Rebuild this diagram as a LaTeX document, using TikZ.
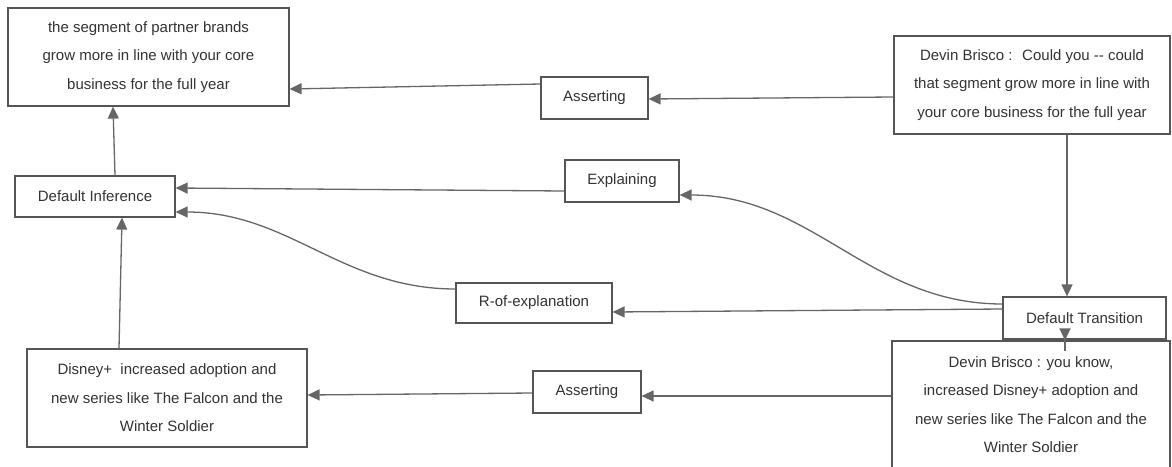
\documentclass[tikz,border=0pt]{standalone}
\usepackage{fontspec}
\setmainfont{Liberation Sans}
\definecolor{edgegray}{HTML}{666666}
\definecolor{boxgray}{HTML}{555555}
\definecolor{txtgray}{HTML}{333333}
\usepackage{tikz}
\usetikzlibrary{arrows.meta,positioning}

\begin{document}
\begin{tikzpicture}[
      x=1pt,y=-1pt,
      box/.style={draw=boxgray,line width=1.2pt,fill=white,
                  inner sep=0pt,text=txtgray,
                  font=\fontsize{15}{28.5}\selectfont,align=center},
      arr/.style={-{Triangle[length=12pt,width=11pt]},edgegray,line width=1.3pt}
    ]
      \useasboundingbox (0,0) rectangle (1172,466);
      % statements
      \node[box,minimum width=281pt,minimum height=98pt] (claim) at (148.5,57)
        {the segment of partner brands\\grow more in line with your core\\business for the full year};
      \node[box,minimum width=276pt,minimum height=98pt] (dev1) at (1032,85)
        {Devin Brisco :~ Could you -{}- could\\that segment grow more in line with\\your core business for the full year};
      \node[box,minimum width=280pt,minimum height=98pt] (dis) at (167,398)
        {Disney+~ increased adoption and\\new series like The Falcon and the\\Winter Soldier};
      \node[box,minimum width=278pt,minimum height=127pt] (dev2) at (1031,404.5)
        {Devin Brisco : you know,\\increased Disney+ adoption and\\new series like The Falcon and the\\Winter Soldier};
      % relations
      \node[box,minimum width=107pt,minimum height=42pt] (ast1) at (594.5,98) {Asserting};
      \node[box,minimum width=114pt,minimum height=42pt] (expl) at (622,181) {Explaining};
      \node[box,minimum width=160pt,minimum height=41pt] (dinf) at (95,196.5) {Default Inference};
      \node[box,minimum width=156pt,minimum height=40pt] (rexp) at (534,303) {R-of-explanation};
      \node[box,minimum width=163pt,minimum height=42pt] (dtr) at (1084.5,318) {Default Transition};
      \node[box,minimum width=108pt,minimum height=42pt] (ast2) at (587,392) {Asserting};
      % connectors
      \draw[arr] ([yshift=-12pt]dev1.west) -- ([yshift=-1pt]ast1.east);
      \draw[arr] ([yshift=14pt]ast1.west) -- ([yshift=-32pt]claim.east);
      \draw[arr] ([xshift=35pt]dev1.south) -- ([xshift=-17.5pt]dtr.north);
      \draw[arr] ([yshift=14pt]dtr.west) to[out=180,in=0] ([yshift=-14pt]expl.east);
      \draw[arr] ([yshift=9pt]dtr.west) -- ([yshift=-9pt]rexp.east);
      \draw[arr] ([yshift=14pt]rexp.west) to[out=180,in=0] ([yshift=-15.5pt]dinf.east);
      \draw[arr] ([yshift=-10pt]expl.west) -- ([yshift=8.5pt]dinf.east);
      \draw[arr] ([xshift=20pt]dinf.north) -- ([xshift=-35.5pt]claim.south);
      \draw[arr] ([xshift=-48pt]dis.north) -- ([xshift=27pt]dinf.south);
      \draw[arr] ([yshift=8.5pt]dev2.west) -- ([yshift=-4pt]ast2.east);
      \draw[arr] ([yshift=-1pt]ast2.west) -- ([yshift=3pt]dis.east);
      \draw[arr] ([xshift=-19.5pt]dtr.south) -- ([xshift=34pt]dev2.north);
      \draw[edgegray,line width=1.3pt] ([xshift=34pt]dev2.north) -- ++(0,11);
    \end{tikzpicture}
\end{document}
